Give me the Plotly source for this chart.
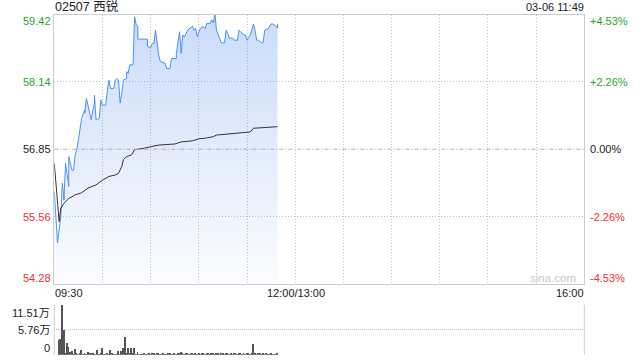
import plotly.graph_objects as go

# ---- data (minutes after 09:30) ----
price_min = [0, 2, 4, 5, 6, 7, 9, 9, 11, 12, 13, 14, 15, 16, 17, 19, 19, 20, 21, 23, 24, 25, 25, 26, 28, 29,
             30, 32, 33, 34, 35, 37, 38, 39, 40, 41, 42, 43, 45, 45, 46, 47, 49, 50, 51, 52, 52, 55, 58, 58,
             60, 61, 62, 63, 64, 65, 66, 68, 69, 70, 72, 73, 76, 76, 78, 79, 80, 81, 82, 83, 86, 87, 88, 89,
             91, 92, 94, 95, 97, 98, 99, 100, 101, 104, 106, 107, 108, 109, 111, 112, 114, 115, 116, 118,
             119, 120, 122, 123, 124, 125, 126, 127, 129, 130, 131, 132, 133, 135, 136, 138, 139, 139]
price = [56.04, 55.06, 55.56, 56.20, 55.88, 56.58, 56.14, 56.71, 56.45, 56.45, 56.74, 56.84, 57.03, 57.28,
         57.44, 57.60, 57.54, 57.82, 57.66, 57.41, 57.60, 57.73, 57.88, 57.41, 57.44, 57.79, 57.69, 57.69,
         57.98, 58.17, 58.01, 58.01, 58.17, 58.20, 58.17, 57.73, 57.92, 58.17, 58.20, 58.33, 58.30, 58.46,
         58.46, 59.38, 59.22, 59.20, 58.95, 58.95, 58.95, 58.81, 58.79, 58.87, 58.87, 59.12, 58.87, 58.65,
         58.52, 58.49, 58.49, 58.39, 58.39, 58.58, 58.58, 58.68, 59.09, 58.68, 59.03, 58.99, 59.06, 59.12,
         59.20, 59.12, 59.16, 59.00, 59.16, 59.19, 59.16, 59.25, 59.25, 59.32, 59.26, 59.43, 59.12, 58.88,
         58.88, 59.12, 59.06, 58.97, 58.97, 58.93, 58.93, 59.12, 59.09, 59.03, 59.03, 58.93, 59.03, 59.12,
         59.24, 59.12, 58.93, 58.93, 58.88, 58.88, 59.12, 59.14, 59.14, 59.24, 59.24, 59.20, 59.16, 59.24]
price_min = price_min[:len(price)]

avg_min = [0, 3, 4, 6, 9, 13, 17, 21, 26, 30, 34, 38, 40, 42, 43, 45, 48, 50, 56, 61, 65, 75, 79, 86, 90,
           94, 99, 101, 111, 122, 124, 139]
avg_price = [56.58, 55.47, 55.72, 55.82, 55.91, 55.98, 56.02, 56.11, 56.17, 56.26, 56.33, 56.36, 56.39,
             56.52, 56.65, 56.71, 56.74, 56.84, 56.87, 56.90, 56.93, 56.95, 56.99, 57.01, 57.05, 57.06,
             57.09, 57.12, 57.15, 57.18, 57.25, 57.28]

vol = [0, 0, 0, 3.45, 3.7, 11.5, 5.76, 0.3, 2.7, 1.8, 0.77, 0.92, 0.2, 1.4, 0.4, 0.2, 0.5, 1.15, 0.15, 0.4,
       0.2, 0.6, 0.4, 0.4, 0.3, 0.15, 0.2, 1.08, 0.23, 0.4, 1.5, 0.15, 0.23, 0.5, 0.2, 1.08, 0.4, 0.23, 0.15,
       0.15, 0.92, 0.2, 0.92, 1.5, 4.07, 0.5, 1.5, 0.3, 1.5, 0.3, 1.7, 0.2, 0.6, 0.2, 0.15, 0.2, 0.3, 0.15,
       0.2, 0.3, 0.2, 0.5, 0.3, 0.2, 0.4, 0.3, 0.2, 0.15, 0.3, 0.2, 0.2, 0.4, 0.3, 0.2, 0.15, 0.3, 0.2, 0.4,
       0.3, 0.6, 0.3, 0.2, 0.4, 0.3, 0.2, 0.5, 0.3, 0.2, 0.4, 0.2, 0.3, 0.2, 0.5, 0.3, 0.2, 0.4, 0.3, 0.2,
       0.5, 0.3, 0.2, 0.4, 0.3, 0.2, 0.3, 0.4, 0.2, 0.3, 0.5, 0.2, 0.3, 0.2, 0.4, 0.3, 0.2, 0.3, 0.4, 0.2,
       0.3, 0.2, 0.4, 0.3, 0.2, 0.3, 2.5, 0.3, 0.2, 0.4, 0.3, 0.2, 0.3, 0.2, 0.3, 0.2, 0.2, 0.3, 0.2, 0.2,
       0.2, 0.3]
vol_min = list(range(len(vol)))

price_ticks = [54.28, 55.56, 56.85, 58.14, 59.42]
price_labels = ["54.28", "55.56", "56.85", "58.14", "59.42"]
pct_labels = ["-4.53%", "-2.26%", "0.00%", "+2.26%", "+4.53%"]
vol_ticks = [0, 5.755, 11.51]
vol_labels = ["0", "5.76万", "11.51万"]
time_labels = ["09:30", "12:00/13:00", "16:00"]
title_text = "02507 西锐"
date_text = "03-06 11:49"

W, H = 640, 360
def px(x): return x / W
def py(y): return 1 - y / H

GREEN = "#1ea81e"
RED = "#f03030"
DARK = "#222222"
FONT = "Liberation Sans, Arial, Noto Sans CJK SC, sans-serif"

fig = go.Figure()
fig.add_trace(go.Scatter(
    x=price_min, y=price, mode="lines", line=dict(color="#4f8ff0", width=1),
    fill="tozeroy",
    fillgradient=dict(type="vertical", start=54.28, stop=59.42,
                      colorscale=[[0, "rgba(60,120,230,0.02)"], [1, "rgba(60,120,230,0.27)"]]),
    xaxis="x", yaxis="y", hoverinfo="skip"))
fig.add_trace(go.Scatter(
    x=avg_min, y=avg_price, mode="lines", line=dict(color="#333333", width=1),
    xaxis="x", yaxis="y", hoverinfo="skip"))
fig.add_trace(go.Bar(
    x=vol_min, y=vol, width=0.6, marker=dict(color="#555555", line=dict(width=0)),
    xaxis="x2", yaxis="y2", hoverinfo="skip"))

xdom = [px(54.3), px(584.3)]
grid = "#c4c4c4"
fig.update_layout(
    width=W, height=H, margin=dict(l=0, r=0, t=0, b=0),
    paper_bgcolor="white", plot_bgcolor="white", showlegend=False,
    font=dict(family=FONT, size=11, color=DARK),
    xaxis=dict(domain=xdom, range=[0, 330], anchor="y", tickvals=list(range(30, 330, 30)),
               showticklabels=False, ticks="", showgrid=True, gridcolor=grid, griddash="1px,2px",
               gridwidth=1, showline=True, mirror=True, linecolor="#cccccc", linewidth=1, zeroline=False),
    yaxis=dict(domain=[py(284), py(14.5)], range=[54.28, 59.42], anchor="x",
               tickvals=[55.56, 58.14], showticklabels=False, ticks="", showgrid=True,
               gridcolor=grid, griddash="1px,2px", showline=True, mirror=True, linecolor="#cccccc",
               linewidth=1, zeroline=False),
    xaxis2=dict(domain=xdom, range=[0, 330], anchor="y2", showticklabels=False, ticks="",
                showgrid=False, showline=False, zeroline=False),
    yaxis2=dict(domain=[py(354.7), py(304.7)], range=[0, 11.51], anchor="x2",
                tickvals=vol_ticks, showticklabels=False, ticks="", showgrid=True,
                gridcolor=grid, griddash="1px,1px", showline=False, zeroline=False),
    bargap=0,
)

shapes = []
# 0% reference line (dashed, darker)
shapes.append(dict(type="line", xref="x", yref="y", x0=0, x1=330, y0=56.85, y1=56.85,
                   line=dict(color="#b0b0b0", width=1, dash="4px,2px,1px,2px")))
# volume panel side borders
for xx in xdom:
    shapes.append(dict(type="line", xref="paper", yref="paper", x0=xx, x1=xx, y0=py(354.7), y1=py(304.7),
                       line=dict(color="#cccccc", width=1)))
fig.update_layout(shapes=shapes)

ann = []
def add(text, x, y, xa, color=DARK, size=11):
    ann.append(dict(text=text, x=px(x), y=py(y), xref="paper", yref="paper", xanchor=xa,
                    yanchor="middle", showarrow=False, font=dict(color=color, size=size), borderpad=0))

left_y = [278, 217, 149, 82, 21]
col = [RED, RED, DARK, GREEN, GREEN]
for lab, pl, yy, c in zip(price_labels, pct_labels, left_y, col):
    add(lab, 52, yy, "right", c)
    add(pl, 589, yy, "left", c)

add(title_text, 54, 7, "left", DARK, 12.5)
add(date_text, 585, 7, "right", DARK, 11)
add(time_labels[0], 54, 293, "left")
add(time_labels[1], 296, 293, "center")
add(time_labels[2], 585, 293, "right")
for lab, yy in zip(vol_labels, [348, 330, 312.5]):
    add(lab, 51, yy, "right")
add("sina.com", 553, 278, "center", "#c8c8c8", 11.5)
fig.update_layout(annotations=ann)

fig.write_html("out.html", config={"displayModeBar": False})
